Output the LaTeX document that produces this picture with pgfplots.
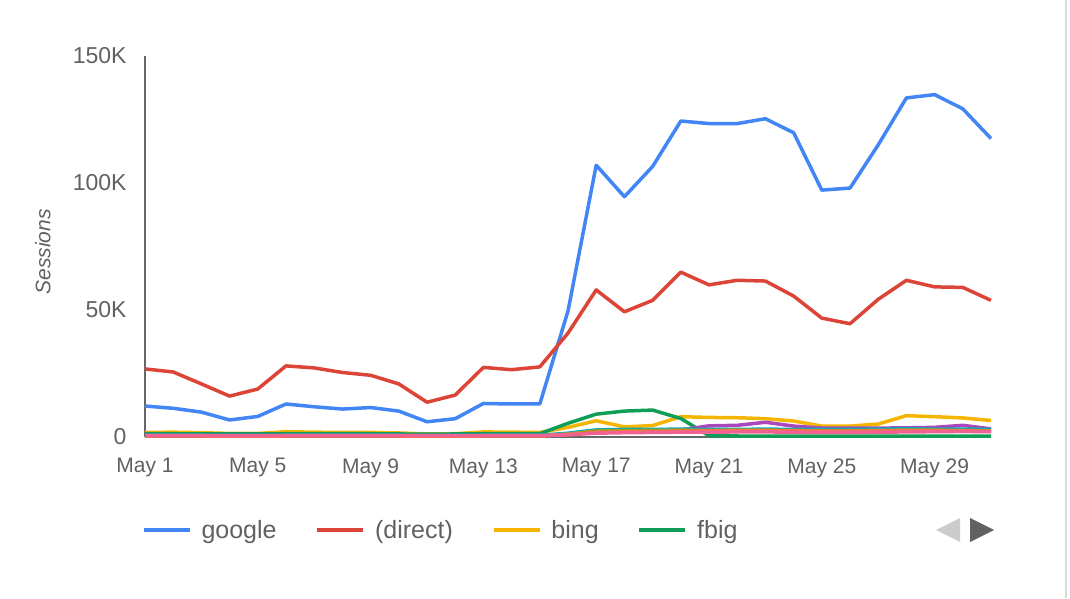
\documentclass[border=0pt]{standalone}
\usepackage{pgfplots}
\pgfplotsset{compat=1.18}
\usepackage{fontspec}
\setmainfont{Liberation Sans}

\definecolor{cgoogle}{HTML}{4285F4}
\definecolor{cdirect}{HTML}{DB4437}
\definecolor{cbing}{HTML}{F4B400}
\definecolor{cfbig}{HTML}{0F9D58}
\definecolor{cpurple}{HTML}{AB47BC}
\definecolor{cteal}{HTML}{00ACC1}
\definecolor{corange}{HTML}{FF7043}
\definecolor{colive}{HTML}{9E9D24}
\definecolor{cpink}{HTML}{F06292}
\definecolor{txt}{HTML}{616161}
\definecolor{axisgrey}{HTML}{666666}

\begin{document}
\begin{tikzpicture}[x=1pt,y=1pt]
\path[use as bounding box] (0,0) rectangle (1070,598);
\draw[color=black!15, line width=2pt] (1066,0) -- (1066,598);
\begin{axis}[
    at={(145pt,161pt)}, anchor=south west,
    scale only axis,
    width=846pt, height=381pt,
    xmin=1, xmax=31, ymin=0, ymax=150000,
    axis x line=bottom, axis y line=left,
    axis line style={-, draw=axisgrey, line width=1.6pt},
    clip=false,
    major tick length=0pt,
    xtick={1,5,9,13,17,21,25,29},
    xticklabels={May 1,May 5,May 9,May 13,May 17,May 21,May 25,May 29},
    ytick={0,50000,100000,150000},
    yticklabels={0,50K,100K,150K},
    scaled y ticks=false,
    xticklabel style={font=\fontsize{21}{25}\selectfont, text=txt, yshift=-18pt},
    yticklabel style={font=\fontsize{23}{27}\selectfont, text=txt, xshift=-15pt},
    ylabel={\itshape Sessions},
    ylabel style={font=\fontsize{21}{25}\selectfont, text=txt, at={(axis description cs:0,0.486)}, anchor=south, yshift=91pt},
    every axis plot/.append style={line width=3.5pt, line join=round},
    legend style={at={(rel axis cs:-0.0035,-0.244)}, anchor=west, draw=none, fill=none,
        legend columns=4, font=\fontsize{25}{29}\selectfont, text=txt,
        inner sep=0pt, outer sep=0pt,
        /tikz/every even column/.append style={column sep=29pt},
        nodes={inner xsep=10pt}},
    legend image code/.code={\draw[#1, line width=3.5pt] (0pt,0pt) -- (46pt,0pt);},
]
% google
\addplot[cgoogle] coordinates {(1,12200) (2,11300) (3,9800) (4,6700) (5,8100) (6,13000) (7,11900) (8,11000) (9,11600) (10,10200) (11,6000) (12,7200) (13,13200) (14,13000) (15,13000) (16,49600) (17,107000) (18,94600) (19,106500) (20,124400) (21,123400) (22,123400) (23,125300) (24,119800) (25,97200) (26,98000) (27,115000) (28,133500) (29,134800) (30,129200) (31,117500)};
\addlegendentry{google}
% (direct)
\addplot[cdirect] coordinates {(1,26800) (2,25600) (3,20900) (4,16100) (5,18900) (6,28000) (7,27200) (8,25400) (9,24300) (10,20900) (11,13700) (12,16500) (13,27400) (14,26500) (15,27600) (16,40900) (17,57900) (18,49300) (19,53800) (20,64900) (21,59900) (22,61700) (23,61400) (24,55500) (25,46800) (26,44600) (27,54200) (28,61700) (29,59100) (30,58900) (31,53800)};
\addlegendentry{(direct)}
% bing
\addplot[cbing] coordinates {(1,1800) (2,1900) (3,1700) (4,1400) (5,1400) (6,2100) (7,1900) (8,1800) (9,1800) (10,1600) (11,1200) (12,1300) (13,2000) (14,1900) (15,1800) (16,3800) (17,6400) (18,4000) (19,4500) (20,8000) (21,7700) (22,7600) (23,7200) (24,6300) (25,4300) (26,4300) (27,5100) (28,8400) (29,8000) (30,7500) (31,6500)};
\addlegendentry{bing}
% fbig
\addplot[cfbig] coordinates {(1,1300) (2,1300) (3,1200) (4,1200) (5,1200) (6,1300) (7,1300) (8,1300) (9,1300) (10,1200) (11,1100) (12,1200) (13,1300) (14,1300) (15,1300) (16,5400) (17,9000) (18,10200) (19,10600) (20,7300) (21,500) (22,400) (23,300) (24,300) (25,300) (26,300) (27,300) (28,300) (29,300) (30,300) (31,300)};
\addlegendentry{fbig}
% further sources (next legend page)
\addplot[cpurple, forget plot] coordinates {(1,600) (2,600) (3,600) (4,500) (5,500) (6,600) (7,600) (8,600) (9,600) (10,600) (11,500) (12,500) (13,600) (14,600) (15,600) (16,1000) (17,2000) (18,2300) (19,2500) (20,2800) (21,4400) (22,4600) (23,5800) (24,4300) (25,3500) (26,3500) (27,3500) (28,3600) (29,3800) (30,4600) (31,3200)};
\addplot[cteal, forget plot] coordinates {(1,700) (2,700) (3,700) (4,600) (5,600) (6,700) (7,700) (8,700) (9,700) (10,700) (11,600) (12,600) (13,700) (14,700) (15,700) (16,1500) (17,2800) (18,3000) (19,3000) (20,3100) (21,3000) (22,3000) (23,3100) (24,3000) (25,3000) (26,3000) (27,3100) (28,3200) (29,3100) (30,3100) (31,3000)};
\addplot[colive, forget plot] coordinates {(1,500) (2,500) (3,500) (4,400) (5,400) (6,500) (7,500) (8,500) (9,500) (10,500) (11,400) (12,400) (13,500) (14,500) (15,500) (16,1200) (17,2400) (18,2500) (19,2600) (20,2700) (21,2600) (22,2700) (23,2700) (24,2600) (25,2500) (26,2500) (27,2600) (28,2700) (29,2700) (30,2600) (31,2500)};
\addplot[corange, forget plot] coordinates {(1,400) (2,400) (3,400) (4,300) (5,300) (6,400) (7,400) (8,400) (9,400) (10,400) (11,300) (12,300) (13,400) (14,400) (15,400) (16,900) (17,1800) (18,2000) (19,2100) (20,2300) (21,2400) (22,2400) (23,2500) (24,2400) (25,2300) (26,2300) (27,2400) (28,2500) (29,2500) (30,2400) (31,2300)};
\addplot[cpink, forget plot] coordinates {(1,500) (2,500) (3,500) (4,500) (5,500) (6,500) (7,500) (8,500) (9,500) (10,500) (11,500) (12,500) (13,500) (14,500) (15,500) (16,900) (17,1500) (18,1700) (19,1800) (20,1900) (21,1900) (22,2000) (23,2000) (24,1900) (25,1800) (26,1800) (27,1900) (28,2000) (29,2100) (30,2200) (31,2100)};
\end{axis}
% legend page arrows
\fill[black!20] (936,68) -- (960,80) -- (960,56) -- cycle;
\fill[txt] (994,68) -- (970,80) -- (970,56) -- cycle;
\end{tikzpicture}
\end{document}
